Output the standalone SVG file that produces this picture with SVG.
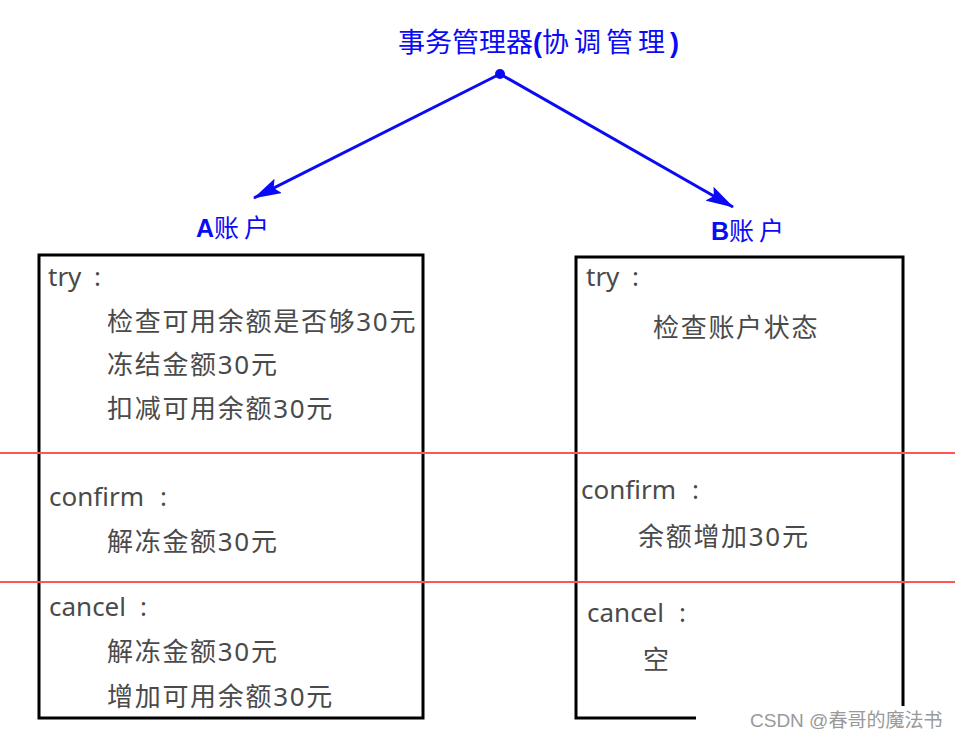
<svg xmlns="http://www.w3.org/2000/svg" width="955" height="739" viewBox="0 0 955 739">
<style>
.t{font-family:"Noto Sans","Noto Sans CJK SC",sans-serif;fill:#4a4a4a;font-size:26px}
.k{font-family:"Noto Sans","Noto Sans CJK SC",sans-serif;fill:#4a4a4a;font-size:26px;letter-spacing:1.7px}
.b{font-family:"Liberation Sans","Noto Sans CJK SC",sans-serif;fill:#0a0af5}
.box{fill:none;stroke:#000;stroke-width:3}
.red{stroke:#ff5555;stroke-width:2}
.con{stroke:#0a0af5;stroke-width:3;fill:none}
</style>
<defs>
<marker id="ah" viewBox="0 0 28 16" refX="27" refY="8" markerWidth="28" markerHeight="16" orient="auto" markerUnits="userSpaceOnUse">
<path d="M0,0 L28,8 L0,16 L5,8 Z" fill="#0a0af5"/>
</marker>
</defs>
<rect width="955" height="739" fill="#fff"/>
<g id="manager">
<text class="b" x="398" y="52" font-size="27">事务管理器<tspan font-weight="bold">(</tspan><tspan letter-spacing="5">协调管理</tspan><tspan font-weight="bold">)</tspan></text>
<circle cx="500" cy="74" r="5" fill="#0a0af5"/>
</g>
<g id="connectors">
<line class="con" x1="500" y1="74" x2="254" y2="198" marker-end="url(#ah)"/>
<line class="con" x1="500" y1="74" x2="733" y2="207" marker-end="url(#ah)"/>
</g>
<g id="accountA">
<text class="b" x="196" y="237" font-size="25"><tspan font-weight="bold">A</tspan><tspan letter-spacing="5">账户</tspan></text>
<rect class="box" x="39" y="255" width="384" height="463"/>
<text class="t" x="48" y="286">try <tspan x="94">:</tspan></text>
<text class="k" x="107" y="331">检查可用余额是否够30元</text>
<text class="k" x="107" y="374">冻结金额30元</text>
<text class="k" x="107" y="418">扣减可用余额30元</text>
<text class="t" x="49" y="506">confirm <tspan x="160">:</tspan></text>
<text class="k" x="107" y="551">解冻金额30元</text>
<text class="t" x="49" y="616">cancel <tspan x="140">:</tspan></text>
<text class="k" x="107" y="661">解冻金额30元</text>
<text class="k" x="107" y="706">增加可用余额30元</text>
</g>
<g id="accountB">
<text class="b" x="711" y="240" font-size="25"><tspan font-weight="bold">B</tspan><tspan letter-spacing="5">账户</tspan></text>
<rect class="box" x="576" y="257" width="327" height="461"/>
<text class="t" x="586" y="286">try <tspan x="632">:</tspan></text>
<text class="k" x="653" y="337">检查账户状态</text>
<text class="t" x="581" y="499">confirm <tspan x="692">:</tspan></text>
<text class="k" x="638" y="546">余额增加30元</text>
<text class="t" x="587" y="622">cancel <tspan x="679">:</tspan></text>
<text class="k" x="643" y="669">空</text>
</g>
<g id="phases">
<line class="red" x1="0" y1="453" x2="955" y2="453"/>
<line class="red" x1="0" y1="582" x2="955" y2="582"/>
</g>
<rect x="696" y="706" width="259" height="33" fill="#fff"/>
<text x="750" y="727" font-family="Liberation Sans, Noto Sans CJK SC, sans-serif" font-size="19" fill="#999">CSDN @春哥的魔法书</text>
</svg>
